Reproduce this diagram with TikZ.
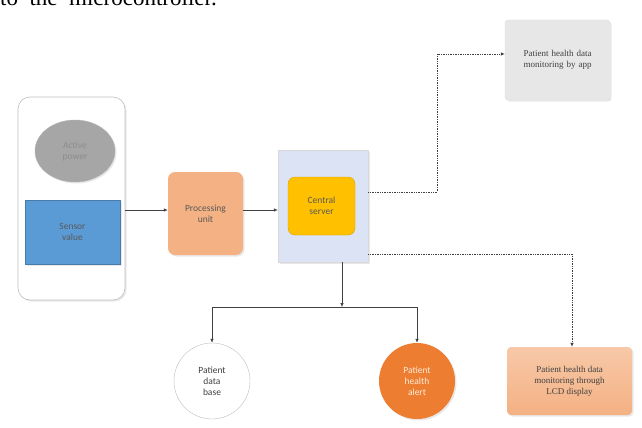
\documentclass[tikz,border=0pt]{standalone}
\usepackage{fontspec}
\setmainfont{Carlito}
\newfontfamily\bodyserif{Liberation Serif}
\usetikzlibrary{arrows.meta,shapes.geometric,shadows}
\definecolor{grayfill}{HTML}{A6A6A6}
\definecolor{bluefill}{HTML}{5B9BD5}
\definecolor{peach}{HTML}{F4B183}
\definecolor{serverbg}{HTML}{DCE3F4}
\definecolor{gold}{HTML}{FFC000}
\definecolor{appgray}{HTML}{E7E7E7}
\definecolor{alertorange}{HTML}{ED7D31}
\definecolor{linegray}{HTML}{404040}
\tikzset{
  lbl/.style={font=\fontsize{9.5}{11}\selectfont, align=center, text=black!75},
  slbl/.style={font=\bodyserif\fontsize{9}{11}\selectfont, align=center, text=black!75},
  shad/.style={drop shadow={opacity=0.18, shadow xshift=1.5pt, shadow yshift=-1.5pt}},
  solidarrow/.style={draw=linegray, line width=0.6pt, -{Latex[length=4pt,width=3.5pt]}},
  dotarrow/.style={draw=linegray, line width=0.7pt, densely dotted, -{Latex[length=4pt,width=3.5pt]}},
}
\begin{document}
\begin{tikzpicture}[x=1pt,y=-1pt]
\useasboundingbox (0,0) rectangle (642,428);
\begin{scope}
\clip (0,0) rectangle (642,428);
\node[anchor=base west, inner sep=0pt, font=\bodyserif\fontsize{23}{25}\selectfont] (toptext) at (0,6) {to\ \ the\ \ microcontroller.};
\end{scope}
% left container
\node[draw=black!25, line width=0.6pt, fill=white, rounded corners=12pt, minimum width=107pt, minimum height=203pt, shad] (container) at (71.5,198.5) {};
\node[ellipse, fill=grayfill, draw=black!30, minimum width=80pt, minimum height=62pt, lbl, text=black!45, shad] (active) at (75,151) {Active\\power};
\node[fill=bluefill, draw=bluefill!80!black, minimum width=95pt, minimum height=64pt, lbl, text=black!65, shad] (sensor) at (72.5,232) {Sensor\\value};
% processing
\node[fill=peach, rounded corners=7pt, minimum width=75pt, minimum height=83pt, lbl, text=black!65, shad] (proc) at (205.5,213.5) {Processing\\unit};
% server
\node[fill=serverbg, draw=black!15, minimum width=90pt, minimum height=112pt, shad] (server) at (323,206) {};
\node[fill=gold, draw=gold!85!black, rounded corners=7pt, minimum width=67pt, minimum height=58pt, lbl, text=black!65] (central) at (321.5,206) {Central\\server};
% app box
\node[fill=appgray, draw=black!12, rounded corners=3pt, minimum width=105pt, minimum height=80pt, slbl, shad, text width=95pt] (app) at (557.5,60) {Patient health data\\monitoring by app};
% LCD box
\node[top color=peach!70, bottom color=peach, rounded corners=4pt, minimum width=125pt, minimum height=68pt, slbl, text=black!75, shad] (lcd) at (569.5,381) {Patient health data\\monitoring through\\LCD display};
% circles
\node[circle, draw=black!25, fill=white, minimum size=76pt, lbl, inner sep=0pt] (database) at (212,381) {Patient\\data\\base};
\node[circle, fill=alertorange, minimum size=76pt, lbl, text=white!85!orange, inner sep=0pt, shad] (alert) at (417,381) {Patient\\health\\alert};
% coordinates
\coordinate (junction) at (342,307);
\coordinate (leftturn) at (212,307);
\coordinate (rightturn) at (417,307);
\coordinate (appturn) at (437,192);
\coordinate (appturn2) at (437,54);
\coordinate (lcdturn) at (572,254);
% connectors
\draw[solidarrow] (container.east |- 0,210) -- (proc.west |- 0,210);
\draw[solidarrow] (proc.east |- 0,210) -- (server.west |- 0,210);
\draw[solidarrow] (server.south -| junction) -- (junction);
\draw[draw=linegray, line width=0.6pt] (leftturn) -- (rightturn);
\draw[solidarrow] (leftturn) -- (database.north);
\draw[solidarrow] (rightturn) -- (alert.north);
\draw[dotarrow] (server.east |- appturn) -- (appturn) -- (appturn2) -- (app.west |- appturn2);
\draw[dotarrow] (server.east |- lcdturn) -- (lcdturn) -- (lcd.north -| lcdturn);
\end{tikzpicture}
\end{document}
